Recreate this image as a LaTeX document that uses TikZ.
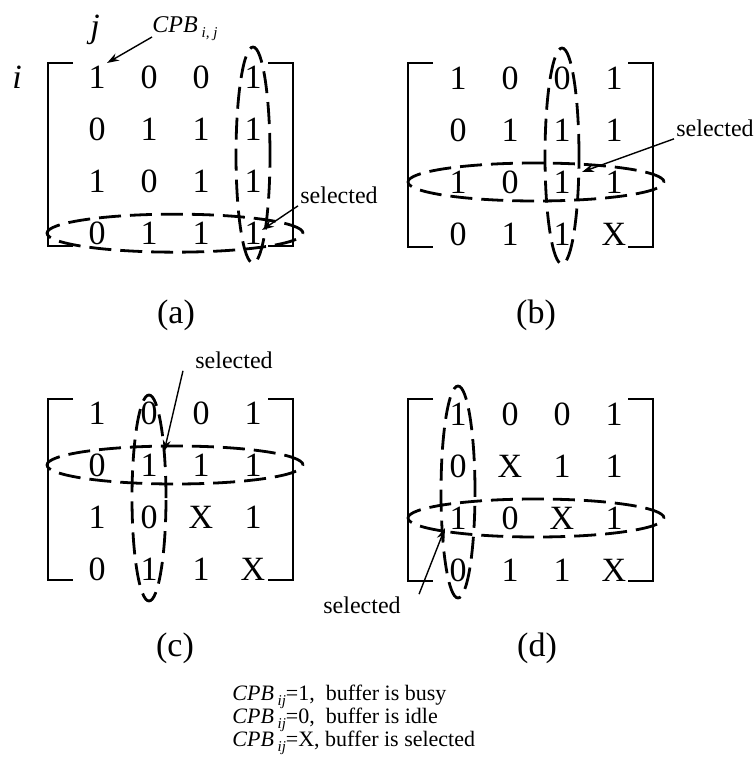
\documentclass[tikz,border=0pt]{standalone}
\usepackage{fontspec}
\setmainfont{Liberation Serif}
\usepackage{tikz}
\usetikzlibrary{shapes.geometric, arrows.meta, matrix}
\newcommand{\cpbsub}[1]{\textit{CPB}\,\raisebox{-2.5pt}{\fontsize{7.5}{8}\selectfont\textit{#1}}}

\begin{document}
\begin{tikzpicture}[x=0.5pt, y=-0.5pt,
        mat/.style={matrix of nodes, inner sep=0pt, nodes={minimum width=26pt, minimum height=26pt, inner sep=0pt, font=\fontsize{17}{20}\selectfont}},
        bracket/.style={line width=0.8pt},
        vsel/.style={ellipse, draw, line width=1.4pt, dash pattern=on 11pt off 4.5pt, minimum width=17pt, minimum height=108pt, inner sep=0pt},
        hsel/.style={ellipse, draw, line width=1.4pt, dash pattern=on 11pt off 4.5pt, minimum width=128pt, minimum height=19pt, inner sep=0pt},
        seltext/.style={font=\fontsize{12}{14}\selectfont, inner sep=1pt},
        sublabel/.style={font=\fontsize{17}{20}\selectfont},
        index/.style={font=\fontsize{17}{20}\selectfont\itshape},
        keytext/.style={font=\fontsize{11}{13}\selectfont, inner sep=0pt, anchor=base west},
        arrow/.style={-{Stealth[length=6pt, width=4pt]}, line width=0.7pt}
    ]
        \useasboundingbox (0,0) rectangle (754,775);

        % (a)
        \matrix (ma) [mat] at (175,155) {
            1 & 0 & 0 & 1 \\
            0 & 1 & 1 & 1 \\
            1 & 0 & 1 & 1 \\
            0 & 1 & 1 & 1 \\
        };
        \draw[bracket] ([shift={(-102,-92)}]ma.center) -- ++(-25,0) -- ++(0,183) -- ++(25,0);
        \draw[bracket] ([shift={(93,-92)}]ma.center) -- ++(25,0) -- ++(0,183) -- ++(-25,0);
        \node[vsel] (ca) at (ma-1-4 |- ma) {};
        \node[hsel] (ra) at (ma-4-1 -| ma) {};
        \node[index] (ilab) at (17,77) {i};
        \node[index] (jlab) at (95,30) {j};
        \node[font=\fontsize{12}{14}\selectfont, inner sep=0pt, anchor=base west] (cpb) at (152,33) {\cpbsub{i, j}};
        \coordinate (t0) at (107,63);
        \draw[arrow] ([yshift=-2pt]cpb.base west) -- (t0);
        \node[seltext, anchor=west] (sa) at (298,195) {selected};
        \coordinate (ta) at (262,230);
        \draw[arrow] (sa.south west) -- (ta);
        \node[sublabel] (capa) at (176,315) {(a)};

        % (b)
        \matrix (mb) [mat] at (536,156) {
            1 & 0 & 0 & 1 \\
            0 & 1 & 1 & 1 \\
            1 & 0 & 1 & 1 \\
            0 & 1 & 1 & X \\
        };
        \draw[bracket] ([shift={(-103,-93)}]mb.center) -- ++(-25,0) -- ++(0,184) -- ++(25,0);
        \draw[bracket] ([shift={(92,-93)}]mb.center) -- ++(25,0) -- ++(0,184) -- ++(-25,0);
        \node[vsel] (cb) at (mb-1-3 |- mb) {};
        \node[hsel] (rb) at (mb-3-1 -| mb) {};
        \node[seltext, anchor=west] (sb) at (674,128) {selected};
        \coordinate (tb) at (582,172);
        \draw[arrow] (sb.south west) -- (tb);
        \node[sublabel] (capb) at (536,315) {(b)};

        % (c)
        \matrix (mc) [mat] at (175,491) {
            1 & 0 & 0 & 1 \\
            0 & 1 & 1 & 1 \\
            1 & 0 & X & 1 \\
            0 & 1 & 1 & X \\
        };
        \draw[bracket] ([shift={(-102,-92)}]mc.center) -- ++(-25,0) -- ++(0,181) -- ++(25,0);
        \draw[bracket] ([shift={(93,-92)}]mc.center) -- ++(25,0) -- ++(0,181) -- ++(-25,0);
        \node[vsel, minimum height=103pt, yshift=-3.5pt] (cc) at (mc-1-2 |- mc) {};
        \node[hsel] (rc) at (mc-2-1 -| mc) {};
        \node[seltext] (sc) at (234,360) {selected};
        \coordinate (tc) at (164,452);
        \draw[arrow] ([xshift=-5pt]sc.south west) -- (tc);
        \node[sublabel] (capc) at (175,648) {(c)};

        % (d)
        \matrix (md) [mat] at (536,492) {
            1 & 0 & 0 & 1 \\
            0 & X & 1 & 1 \\
            1 & 0 & X & 1 \\
            0 & 1 & 1 & X \\
        };
        \draw[bracket] ([shift={(-103,-93)}]md.center) -- ++(-25,0) -- ++(0,182) -- ++(25,0);
        \draw[bracket] ([shift={(92,-93)}]md.center) -- ++(25,0) -- ++(0,182) -- ++(-25,0);
        \node[vsel, minimum height=106pt] (cd) at (md-1-1 |- md) {};
        \node[hsel] (rd) at (md-3-1 -| md) {};
        \node[seltext] (sd) at (362,605) {selected};
        \coordinate (td) at (445,528);
        \draw[arrow] ([xshift=8pt]sd.north east) -- (td);
        \node[sublabel] (capd) at (537,648) {(d)};

        % key
        \node[keytext] (key1) at (232,700) {\cpbsub{ij}=1,~ buffer is busy};
        \node[keytext] (key2) at (232,723) {\cpbsub{ij}=0,~ buffer is idle};
        \node[keytext] (key3) at (232,746) {\cpbsub{ij}=X, buffer is selected};
    \end{tikzpicture}
\end{document}
